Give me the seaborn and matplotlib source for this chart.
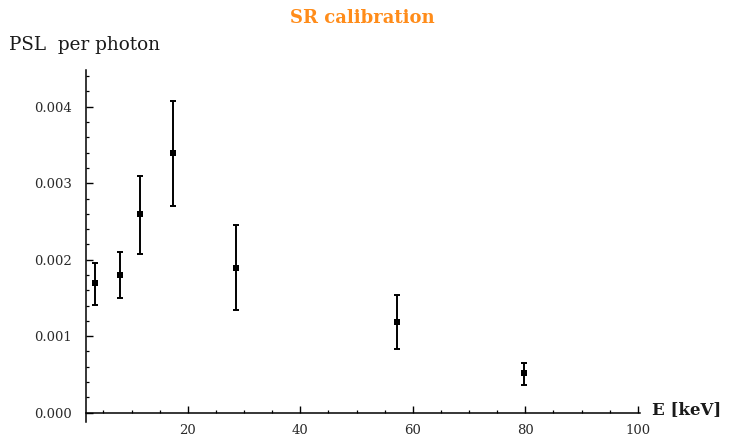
import matplotlib
matplotlib.use("Agg")
import matplotlib.pyplot as plt
from matplotlib.ticker import MultipleLocator, FormatStrFormatter
import seaborn as sns
import pandas as pd
import numpy as np

# data
energy = [3.5, 8.0, 11.5, 17.3, 28.6, 57.2, 79.8]
psl = [0.00170, 0.00180, 0.00260, 0.00339, 0.00189, 0.00119, 0.00052]
psl_low = [0.00141, 0.00150, 0.00207, 0.00270, 0.00134, 0.00083, 0.00036]
psl_high = [0.00196, 0.00210, 0.00310, 0.00407, 0.00246, 0.00154, 0.00065]

df = pd.DataFrame({"E": energy, "psl": psl, "lo": psl_low, "hi": psl_high})

sns.set_theme(style="white")
plt.rcParams['font.family'] = ['DejaVu Serif', 'Liberation Serif']
plt.rcParams['xtick.direction'] = 'in'
plt.rcParams['ytick.direction'] = 'in'

fig = plt.figure(figsize=(7.29, 4.38), dpi=100)
ax = fig.add_axes([0.118, 0.037, 0.760, 0.803])

yerr = np.array([df["psl"] - df["lo"], df["hi"] - df["psl"]])
ax.errorbar(df["E"], df["psl"], yerr=yerr, fmt='none', ecolor='black',
            elinewidth=1.4, capsize=2.4, capthick=1.4)
sns.scatterplot(data=df, x="E", y="psl", marker='s', s=16, color='black',
                edgecolor='black', linewidth=0, ax=ax, zorder=3)

ax.set_xlim(1.9, 100.4)
ax.set_ylim(-0.00012, 0.00448)

for s in ['top', 'right']:
    ax.spines[s].set_visible(False)
ax.spines['bottom'].set_position(('data', 0))
for s in ['left', 'bottom']:
    ax.spines[s].set_color('black')
    ax.spines[s].set_linewidth(1.1)

ax.set_xticks([20, 40, 60, 80, 100])
ax.set_yticks([0.0, 0.001, 0.002, 0.003, 0.004])
ax.xaxis.set_minor_locator(MultipleLocator(5))
ax.yaxis.set_minor_locator(MultipleLocator(0.0002))
ax.yaxis.set_major_formatter(FormatStrFormatter('%.3f'))
ax.xaxis.set_major_formatter(FormatStrFormatter('%d'))

ax.tick_params(axis='both', which='both', bottom=True, left=True,
               top=False, right=False, direction='in')
ax.tick_params(axis='both', which='major', length=5, width=1.0,
               color='black', labelsize=9.5, labelcolor='#2a2a2a')
ax.tick_params(axis='both', which='minor', length=2.5, width=0.9,
               color='black')
ax.tick_params(axis='y', which='major', pad=10)
ax.tick_params(axis='x', which='major', pad=8)

ax.set_xlabel('')
ax.set_ylabel('')
ax.grid(False)

fig.text(0.497, 0.96, 'SR calibration', color='#ff8c1a', fontsize=13,
         fontweight='bold', ha='center', va='center')
fig.text(0.012, 0.886, 'PSL  per photon', color='#1a1a1a', fontsize=13.2,
         ha='left', va='baseline')
fig.text(0.895, 0.066, 'E [keV]', color='#1a1a1a', fontsize=12,
         fontweight='bold', ha='left', va='center')

fig.savefig('out.png', dpi=100)
